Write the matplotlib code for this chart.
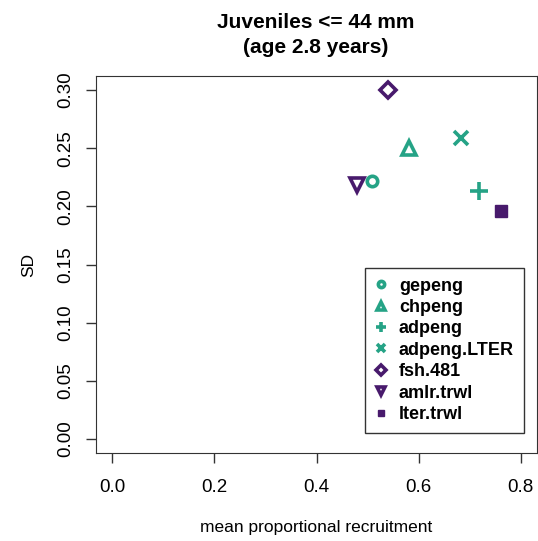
import matplotlib
matplotlib.use("Agg")
from matplotlib import pyplot as plt

plt.rcParams['font.family'] = ['Liberation Sans', 'DejaVu Sans']

series = ["gepeng", "chpeng", "adpeng", "adpeng.LTER", "fsh.481", "amlr.trwl", "lter.trwl"]
mean_rec = [0.508, 0.581, 0.719, 0.684, 0.540, 0.479, 0.762]
sd = [0.222, 0.250, 0.213, 0.259, 0.300, 0.218, 0.196]
markers = ["o", "^", "+", "x", "D", "v", "s"]
teal = "#25A386"
purple = "#481A6C"
colors = [teal, teal, teal, teal, purple, purple, purple]

fig = plt.figure(figsize=(5.38, 5.41), dpi=100)
ax = fig.add_axes([96 / 538, 1 - 453 / 541, (537 - 96) / 538, (453 - 76) / 541])

sizes = {"o": 7.5, "^": 10, "+": 13, "x": 10, "D": 8, "v": 10, "s": 8}
for name, x, y, m, c in zip(series, mean_rec, sd, markers, colors):
    filled = m == "s"
    ax.plot([x], [y], linestyle="none", marker=m, markersize=sizes[m],
            markeredgewidth=1 if filled else 2.6, markeredgecolor=c,
            markerfacecolor=c if filled else "none", label=name)

ax.set_xlim(-0.032, 0.832)
ax.set_ylim(-0.012, 0.312)
ax.set_xticks([0.0, 0.2, 0.4, 0.6, 0.8])
ax.set_xticklabels(["0.0", "0.2", "0.4", "0.6", "0.8"])
ax.set_yticks([0.0, 0.05, 0.10, 0.15, 0.20, 0.25, 0.30])
ax.set_yticklabels(["0.00", "0.05", "0.10", "0.15", "0.20", "0.25", "0.30"],
                   rotation=90, va="center")
ax.tick_params(labelsize=13.5, length=7, width=1, color="#333333")
ax.tick_params(axis="x", pad=12)
ax.tick_params(axis="y", pad=9)
for s in ax.spines.values():
    s.set_color("#333333")

ax.set_xlabel("mean proportional recruitment", fontsize=12.5, labelpad=17)
ax.set_ylabel("SD", fontsize=12.5, labelpad=15)

fig.text(316 / 538, 1 - 28 / 541, "Juveniles <= 44 mm", ha="center", va="baseline",
         fontsize=15, fontweight="bold")
fig.text(316 / 538, 1 - 53 / 541, "(age 2.8 years)", ha="center", va="baseline",
         fontsize=15, fontweight="bold")

leg = ax.legend(loc="lower right", bbox_to_anchor=(524 / 538, 1 - 433 / 541),
                bbox_transform=fig.transFigure, frameon=True, fancybox=False,
                prop={"weight": "bold", "size": 13}, handlelength=0.6,
                handletextpad=0.72, labelspacing=0.245, borderpad=0.55,
                borderaxespad=0, markerscale=0.6)
leg.get_frame().set_edgecolor("black")
leg.get_frame().set_linewidth(1)

fig.savefig("out.png", dpi=100)
